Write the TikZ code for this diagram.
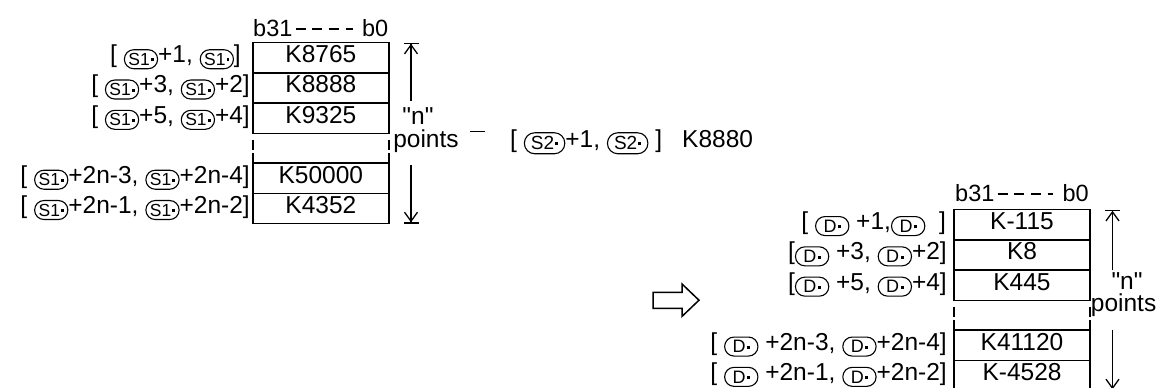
\documentclass[tikz,border=0pt]{standalone}
\usepackage{fontspec}
\setmainfont{Liberation Sans}
\usetikzlibrary{arrows.meta}
\newcommand{\SoneOp}{\tikz[x=1cm,y=1cm,baseline={([yshift=2.6pt]o.base)}]\node[draw,line width=1.1pt,rounded corners=9.4pt,minimum height=19pt,inner xsep=4pt,inner ysep=0pt,font=\fontsize{17.5}{17.5}\selectfont](o){S1\hspace{1pt}\rule[4pt]{2.8pt}{2.8pt}};}
\newcommand{\StwoOp}{\tikz[x=1cm,y=1cm,baseline={([yshift=2.8pt]o.base)}]\node[draw,line width=1.1pt,rounded corners=10.4pt,minimum height=21pt,inner xsep=6.6pt,inner ysep=0pt,font=\fontsize{19}{19}\selectfont](o){S2\hspace{1pt}\rule[4.4pt]{3pt}{3pt}};}
\newcommand{\DOp}{\tikz[x=1cm,y=1cm,baseline={([yshift=2.6pt]o.base)}]\node[draw,line width=1.1pt,rounded corners=9.4pt,minimum height=19pt,inner xsep=8pt,inner ysep=0pt,font=\fontsize{18}{18}\selectfont](o){D\hspace{1.5pt}\rule[4pt]{2.8pt}{2.8pt}};}
\newcommand{\qn}{\textquotedbl n\textquotedbl}
\tikzset{
 txt/.style={font=\fontsize{24.5}{24.5}\selectfont, inner sep=0pt},
 hdr/.style={font=\fontsize{23.5}{23.5}\selectfont, inner sep=0pt},
 cell/.style={draw, line width=1.6pt, minimum width=136pt, minimum height=30.3pt, inner sep=0pt, text height=17pt, text depth=7pt, font=\fontsize{24.5}{24.5}\selectfont},
 gapline/.style={line width=1.6pt},
 dimarrow/.style={line width=1.3pt, -{Straight Barb[length=9pt,width=13pt]Bar[width=15pt]}},
 bigarrow/.style={line width=1.5pt, fill=white, line join=miter},
 hdrdash/.style={line width=1.3pt, dash pattern=on 10pt off 6.7pt},
}
\begin{document}
\begin{tikzpicture}[x=1pt,y=-1pt]
\useasboundingbox (0,0) rectangle (1157,388);
% ---------- left table ----------
\node[hdr,anchor=base west] (lb31) at (253,36) {b31};
\node[hdr,anchor=base east] (lb0) at (388.5,36) {b0};
\draw[hdrdash] ([xshift=3pt,yshift=-1.5pt]lb31.east) -- ([xshift=-9pt,yshift=-1.5pt]lb0.west);
\node[cell] (l1) at (320.85,57.65) {K8765};
\node[cell] (l2) at (320.85,87.95) {K8888};
\node[cell] (l3) at (320.85,118.25) {K9325};
\node[cell] (l4) at (320.85,178.15) {K50000};
\node[cell] (l5) at (320.85,208.45) {K4352};
\draw[gapline] (252.7,139.5) -- (252.7,149.5) (252.7,153) -- (252.7,163);
\draw[gapline] (389,139.5) -- (389,149.5) (389,153) -- (389,163);
\node[txt,anchor=base east] (ll1) at (241,62.65) {[ \SoneOp+1, \SoneOp]};
\node[txt,anchor=base east] (ll2) at (250,92.95) {[ \SoneOp+3, \SoneOp+2]};
\node[txt,anchor=base east] (ll3) at (250,123.25) {[ \SoneOp+5, \SoneOp+4]};
\node[txt,anchor=base east] (ll4) at (250,183.15) {[ \SoneOp+2n-3, \SoneOp+2n-4]};
\node[txt,anchor=base east] (ll5) at (250,213.45) {[ \SoneOp+2n-1, \SoneOp+2n-2]};
\coordinate (lat) at (411,42.5);
\coordinate (lau) at (411,101);
\coordinate (lab) at (411,223.6);
\coordinate (lad) at (411,165);
\draw[dimarrow] (lau) -- (lat);
\draw[dimarrow] (lad) -- (lab);
\node[txt,anchor=base] (ln) at (418,124) {\qn};
\node[txt,anchor=base] (lp) at (426,147) {points};
% ---------- middle ----------
\coordinate (m1) at (470,131.7);
\coordinate (m2) at (485,131.7);
\draw[line width=1.3pt] (m1) -- (m2);
\node[txt,anchor=base west] (s2) at (510,147) {[ \StwoOp+1, \StwoOp\ ]};
\node[txt,anchor=base west] (k8880) at (682,147) {K8880};
% ---------- hollow arrow ----------
\draw[bigarrow] (653,292.3) -- (682,292.3) -- (682,284) -- (699,300.2) -- (682,316.4) -- (682,308.3) -- (653,308.3) -- cycle;
% ---------- right table ----------
\node[hdr,anchor=base west] (rb31) at (955,201) {b31};
\node[hdr,anchor=base east] (rb0) at (1089,201) {b0};
\draw[hdrdash] ([xshift=3pt,yshift=-1.5pt]rb31.east) -- ([xshift=-9pt,yshift=-1.5pt]rb0.west);
\node[cell] (r1) at (1022,224.65) {K-115};
\node[cell] (r2) at (1022,254.95) {K8};
\node[cell] (r3) at (1022,285.25) {K445};
\node[cell] (r4) at (1022,345.15) {K41120};
\node[cell] (r5) at (1022,375.45) {K-4528};
\draw[gapline] (954,306.5) -- (954,316.5) (954,320) -- (954,330);
\draw[gapline] (1090,306.5) -- (1090,316.5) (1090,320) -- (1090,330);
\node[txt,anchor=base east] (rl1) at (946,229.65) {[ \DOp\ +1,\DOp\ \ ]};
\node[txt,anchor=base east] (rl2) at (947,259.95) {[\DOp\ +3, \DOp+2]};
\node[txt,anchor=base east] (rl3) at (947,290.25) {[\DOp\ +5, \DOp+4]};
\node[txt,anchor=base east] (rl4) at (947,350.15) {[ \DOp\ +2n-3, \DOp+2n-4]};
\node[txt,anchor=base east] (rl5) at (947,380.45) {[ \DOp\ +2n-1, \DOp+2n-2]};
\coordinate (rat) at (1112.5,209.5);
\coordinate (rau) at (1112.5,270);
\coordinate (rab) at (1112.5,390.6);
\coordinate (rad) at (1112.5,330);
\draw[dimarrow] (rau) -- (rat);
\draw[dimarrow] (rad) -- (rab);
\node[txt,anchor=base] (rn) at (1127,289) {\qn};
\node[txt,anchor=base east] (rp) at (1156.5,311.5) {points};
\end{tikzpicture}
\end{document}
